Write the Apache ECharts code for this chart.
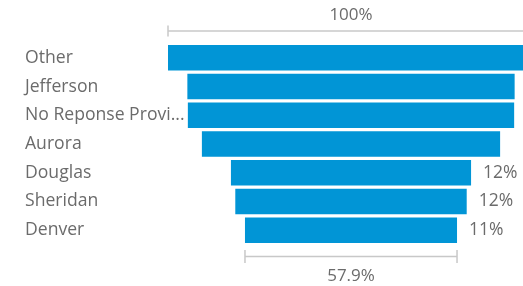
<!DOCTYPE html>
<html>
<head>
<meta charset="utf-8">
<script src="https://cdn.jsdelivr.net/npm/echarts@6/dist/echarts.min.js"></script>
<style>
  html, body { margin: 0; padding: 0; background: #fff; }
  #main { width: 523px; height: 286px; }
</style>
</head>
<body>
<div id="main"></div>
<script type="text/javascript">
  // funnel rows, top to bottom (percent share)
  var categories = ['Other', 'Jefferson', 'No Reponse Provided', 'Aurora', 'Douglas', 'Sheridan', 'Denver'];
  var values = [18.9, 16.9, 16.85, 15.4, 12.4, 11.95, 10.95];

  var FONT = '"Open Sans", "Noto Sans", sans-serif';
  var BLUE = '#0195d6';
  var TEXT = '#6b6b6b';
  var maxVal = Math.max.apply(null, values);

  var offsets = values.map(function(v) { return (maxVal - v) / 2; });
  var bars = values.map(function(v) {
    return {
      value: v,
      label: { show: v / maxVal < 0.7 }
    };
  });

  var chart = echarts.init(document.getElementById('main'));

  var option = {
    animation: false,
    grid: { left: 168, width: 366, top: 43.5, height: 201, outerBoundsMode: 'none', containLabel: false },
    xAxis: {
      type: 'value', min: 0, max: maxVal, show: false
    },
    yAxis: {
      type: 'category',
      inverse: true,
      data: categories,
      axisLine: { show: false },
      axisTick: { show: false },
      axisLabel: {
        align: 'left',
        margin: 143,
        width: 163,
        overflow: 'truncate',
        ellipsis: '...',
        color: TEXT,
        fontSize: 17.6,
        fontFamily: FONT
      }
    },
    series: [
      {
        type: 'bar', stack: 'f', data: offsets,
        itemStyle: { color: 'transparent' },
        barWidth: 25.5, silent: true
      },
      {
        type: 'bar', stack: 'f', data: bars,
        barWidth: 25.5,
        itemStyle: { color: BLUE },
        label: {
          position: 'right',
          distance: 12,
          color: TEXT,
          fontSize: 17.5,
          fontFamily: FONT,
          formatter: function(p) { return Math.round(p.value) + '%'; }
        }
      }
    ]
  };
  chart.setOption(option);

  // brackets above the first and below the last bar
  function bracket(idx, lineY, tickH, textY, text) {
    var x0 = chart.convertToPixel({ gridIndex: 0 }, [offsets[idx], 0])[0];
    var x1 = chart.convertToPixel({ gridIndex: 0 }, [offsets[idx] + values[idx], 0])[0];
    var lineStyle = { stroke: '#c8c8c8', lineWidth: 1.5 };
    return [
      { type: 'line', shape: { x1: x0, y1: lineY, x2: x1, y2: lineY }, style: lineStyle },
      { type: 'line', shape: { x1: x0, y1: lineY - tickH, x2: x0, y2: lineY + tickH }, style: lineStyle },
      { type: 'line', shape: { x1: x1, y1: lineY - tickH, x2: x1, y2: lineY + tickH }, style: lineStyle },
      {
        type: 'text', x: (x0 + x1) / 2, y: textY,
        style: {
          text: text, align: 'center', verticalAlign: 'middle',
          fill: TEXT, font: '17px ' + FONT
        }
      }
    ];
  }

  var last = values.length - 1;
  var topPct = '100%';
  var bottomPct = (values[last] / values[0] * 100).toFixed(1) + '%';
  chart.setOption({
    graphic: bracket(0, 31, 5.5, 15, topPct).concat(bracket(last, 256.5, 6.5, 276.5, bottomPct))
  });
</script>
</body>
</html>
